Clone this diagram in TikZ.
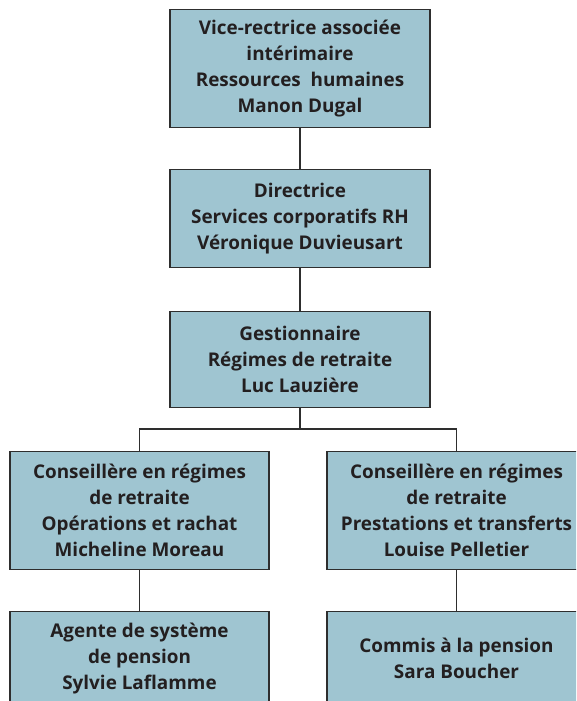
\documentclass[tikz,border=0pt]{standalone}
\usepackage{fontspec}
\setmainfont{Open Sans}
\usetikzlibrary{positioning}
\definecolor{BoxFill}{HTML}{9FC5D1}
\definecolor{BoxLine}{HTML}{2E2E2E}
\definecolor{Ink}{HTML}{231F20}
\tikzset{
  postbox/.style={draw=BoxLine,fill=BoxFill,line width=1.1pt,minimum width=260pt,align=center,font=\fontsize{18.9}{26}\selectfont\bfseries,text=Ink,inner sep=0pt},
  link/.style={draw=BoxLine,line width=1.1pt}
}

\begin{document}
\begin{tikzpicture}[x=1pt,y=1pt,node distance=42pt]
  \clip (0,0) rectangle (576,-701);
  \fill[white] (0,0) rectangle (576,-701);
  % upper chain
  \node[postbox,minimum height=118pt,anchor=north] (vicerect) at (300,-9) {Vice-rectrice associée\\intérimaire\\Ressources\ \ humaines\\Manon Dugal};
  \node[postbox,minimum height=98pt,below=41pt of vicerect] (directrice) {Directrice\\Services corporatifs RH\\Véronique Duvieusart};
  \node[postbox,minimum height=96pt,below=43pt of directrice] (gestion) {Gestionnaire\\Régimes de retraite\\Luc Lauzière};
  % advisers
  \node[postbox,minimum width=259pt,minimum height=118pt,anchor=north] (opera) at (139.5,-451) {Conseillère en régimes\\de retraite\\Opérations et rachat\\Micheline Moreau};
  \node[postbox,minimum width=259pt,minimum height=118pt,anchor=north] (presta) at (456.5,-451) {Conseillère en régimes\\de retraite\\Prestations et transferts\\Louise Pelletier};
  % staff
  \node[postbox,minimum width=259pt,minimum height=93pt,below=41pt of opera] (agente) {Agente de système\\de pension\\Sylvie Laflamme};
  \node[postbox,minimum width=259pt,minimum height=93pt,below=41pt of presta] (commis) {Commis à la pension\\Sara Boucher};
  \coordinate (split) at (300,-429);
  \draw[link] (vicerect) -- (directrice);
  \draw[link] (directrice) -- (gestion);
  \draw[link] (gestion.south) -- (split) -| (opera.north);
  \draw[link] (split) -| (presta.north);
  \draw[link] (opera) -- (agente);
  \draw[link] (presta) -- (commis);
\end{tikzpicture}
\end{document}
